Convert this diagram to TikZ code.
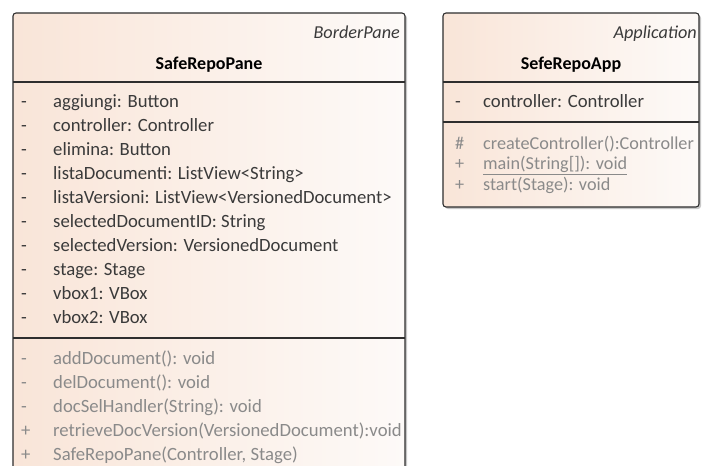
\documentclass[tikz,border=0pt]{standalone}
\usepackage{fontspec}
\setmainfont{Carlito}
\usetikzlibrary{shadows}
\definecolor{bordercol}{HTML}{2E2E2E}
\definecolor{attrcol}{HTML}{3A3A3A}
\definecolor{methcol}{HTML}{8A8A8A}
\definecolor{peach}{HTML}{F9E5D8}
\definecolor{peachlight}{HTML}{FDFAF8}
\begin{document}
\begin{tikzpicture}[x=1pt,y=-1pt,
  font=\fontsize{18.7}{22}\selectfont,
  classbox/.style={draw=bordercol, line width=1.1pt, rounded corners=3pt,
    left color=peach, right color=peachlight,
    drop shadow={shadow xshift=2pt, shadow yshift=-2pt, fill=black, opacity=0.22}},
  divider/.style={draw=bordercol, line width=1.1pt},
  txt/.style={inner sep=0pt, anchor=base west},
  attr/.style={txt, text=attrcol},
  meth/.style={txt, text=methcol},
  small/.style={font=\fontsize{18.2}{22}\selectfont},
  stereo/.style={inner sep=0pt, anchor=base east, font=\fontsize{18.2}{22}\selectfont\itshape, text=attrcol},
  cname/.style={inner sep=0pt, anchor=base, font=\fontsize{18}{22}\selectfont\bfseries, text=black}]
\useasboundingbox (0,0) rectangle (705,466);
\clip (0,0) rectangle (705,466);
\fill[white] (0,0) rectangle (705,466);

% ---------- SafeRepoPane ----------
\path[classbox] (13,13) rectangle (405,500);
\draw[divider] (13,82) -- (405,82);
\draw[divider] (13,338) -- (405,338);
\node[stereo] (bp) at (400,38) {BorderPane};
\node[cname] (srp) at (209,69) {SafeRepoPane};

\foreach \v/\t [count=\i from 0] in {
  a1/{aggiungi: Button},
  a2/{controller: Controller},
  a3/{elimina: Button},
  a4/{listaDocumenti: ListView<String>},
  a5/{listaVersioni: ListView<VersionedDocument>},
  a6/{selectedDocumentID: String},
  a7/{selectedVersion: VersionedDocument},
  a8/{stage: Stage},
  a9/{vbox1: VBox},
  a10/{vbox2: VBox}} {
  \node[attr] (v\v) at (21,107+24.1*\i) {-};
  \node[attr] (\v) at (53,107+24.1*\i) {\t};
}

\foreach \v/\m/\t [count=\i from 0] in {
  m1/-/{addDocument(): void},
  m2/-/{delDocument(): void},
  m3/-/{docSelHandler(String): void},
  m4/+/{retrieveDocVersion(VersionedDocument):void},
  m5/+/{SafeRepoPane(Controller, Stage)}} {
  \node[meth] (v\v) at (21,364+24*\i) {\m};
  \node[meth] (\v) at (53,364+24*\i) {\t};
}

% ---------- SefeRepoApp ----------
\path[classbox] (443,13) rectangle (699,207);
\draw[divider] (443,82) -- (699,82);
\draw[divider] (443,122) -- (699,122);
\node[stereo] (app) at (697,38) {Application};
\node[cname] (sra) at (571,69) {SefeRepoApp};
\node[attr] (vb1) at (455,107) {-};
\node[attr] (b1) at (483,107) {controller: Controller};
\node[meth, small] (vn1) at (455,149) {\#};
\node[meth, small] (n1) at (483,149) {createController():Controller};
\node[meth, small] (vn2) at (455,169.5) {+};
\node[meth, small] (n2) at (483,169.5) {\underline{main(String[]): void}};
\node[meth, small] (vn3) at (455,190) {+};
\node[meth, small] (n3) at (483,190) {start(Stage): void};
\end{tikzpicture}
\end{document}
